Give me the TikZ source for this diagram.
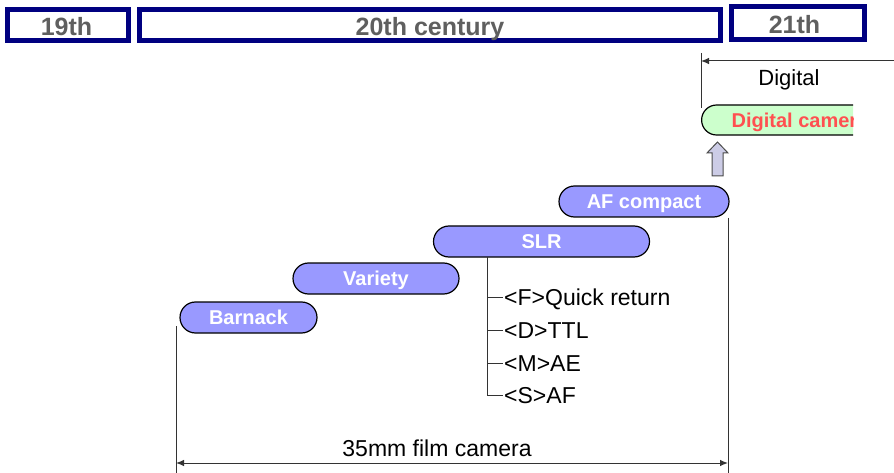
\documentclass[tikz,border=0pt]{standalone}
\usepackage{fontspec}
\setmainfont{Liberation Sans}
\usetikzlibrary{arrows.meta}
\definecolor{navyframe}{HTML}{000080}
\definecolor{eragrey}{HTML}{5F5F5F}
\definecolor{pillblue}{HTML}{9999FF}
\definecolor{mintfill}{HTML}{CCFFCC}
\definecolor{camred}{HTML}{FF5050}
\definecolor{liftfill}{HTML}{CCCCE6}
\definecolor{rulegrey}{HTML}{333333}

\begin{document}
\begin{tikzpicture}[x=1pt,y=-1pt,
  era/.style={draw=navyframe, line width=5pt, fill=white, inner sep=0pt,
    text=eragrey, font=\fontsize{25}{30}\selectfont\bfseries,
    text height=22pt, text depth=0pt, minimum height=31pt},
  pill/.style={draw=black, line width=1.2pt, fill=pillblue, rounded corners=15.5pt,
    minimum height=31pt, inner sep=0pt, text=white,
    font=\fontsize{20}{24}\selectfont\bfseries, text height=14.3pt, text depth=0pt},
  plaintext/.style={inner sep=0pt, font=\fontsize{22}{26}\selectfont,
    text height=15.75pt, text depth=0pt},
  listtext/.style={plaintext, anchor=west, font=\fontsize{23}{27}\selectfont, text height=16.3pt},
  rule/.style={draw=rulegrey, line width=1pt},
  tipL/.style={-{Latex[length=8pt,width=6.5pt]}},
  tipLR/.style={{Latex[length=8pt,width=6.5pt]}-{Latex[length=8pt,width=6.5pt]}}
]
\useasboundingbox (0,0) rectangle (894,473);

% century bands
\node[era, minimum width=121pt] (c19) at (68,25) {19th\hspace*{3pt}};
\node[era, minimum width=581pt] (c20) at (430,25) {20th century};
\node[era, minimum width=133pt, minimum height=33pt] (c21) at (798,23) {21th\hspace*{7pt}};

% camera generations
\node[pill, minimum width=137pt] (barnack) at (248.5,317.5) {Barnack};
\node[pill, minimum width=166pt] (variety) at (376,278.5) {Variety};
\node[pill, minimum width=216pt] (slr) at (541.5,241.5) {SLR};
\node[pill, minimum width=170pt] (afc) at (644,201.5) {AF compact};

% digital camera, cut off at the right
\begin{scope}
  \clip (0,0) rectangle (853,473);
  \node[pill, fill=mintfill, text=camred, anchor=west, minimum height=30pt,
        rounded corners=15pt, inner xsep=30pt] (digicam) at (701,120) {Digital camera};
\end{scope}

% hollow arrow from AF compact to digital
\draw[fill=liftfill, draw=black!70, line width=1pt]
  (712,176) -- (712,153) -- (707,153) -- (717.5,142) -- (728,153)
  -- (723,153) -- (723,176) -- cycle;

% digital era marker
\coordinate (dgTop) at (701,53);
\coordinate (dgBot) at (701,108);
\coordinate (dgFar) at (894,61);
\draw[rule] (dgTop) -- (dgBot);
\draw[rule, tipL] (dgFar) -- (dgTop |- dgFar);
\node[plaintext] (dglabel) at (789,78) {Digital};

% SLR feature list
\node[listtext] (fq) at (504,297) {<F>Quick return};
\node[listtext] (fd) at (504,330) {<D>TTL};
\node[listtext] (fm) at (504,363) {<M>AE};
\node[listtext] (fs) at (504,395) {<S>AF};
\coordinate (tree) at (487,257);
\draw[rule] (tree) |- ([xshift=-1pt]fs.west);
\draw[rule] (tree |- fq.west) -- ([xshift=-1pt]fq.west);
\draw[rule] (tree |- fd.west) -- ([xshift=-1pt]fd.west);
\draw[rule] (tree |- fm.west) -- ([xshift=-1pt]fm.west);

% 35mm film span
\coordinate (filmL) at (176,326);
\coordinate (filmLb) at (176,473);
\coordinate (filmRb) at (728,473);
\coordinate (spanY) at (0,463);
\draw[rule] (filmL) -- (filmLb);
\draw[rule] (afc.south east -| filmRb) -- (filmRb);
\draw[rule, tipLR] (filmL |- spanY) -- (filmRb |- spanY);
\node[plaintext, font=\fontsize{23}{27}\selectfont, text height=16.5pt] (filmlabel) at (437,448) {35mm film camera};
\end{tikzpicture}
\end{document}
